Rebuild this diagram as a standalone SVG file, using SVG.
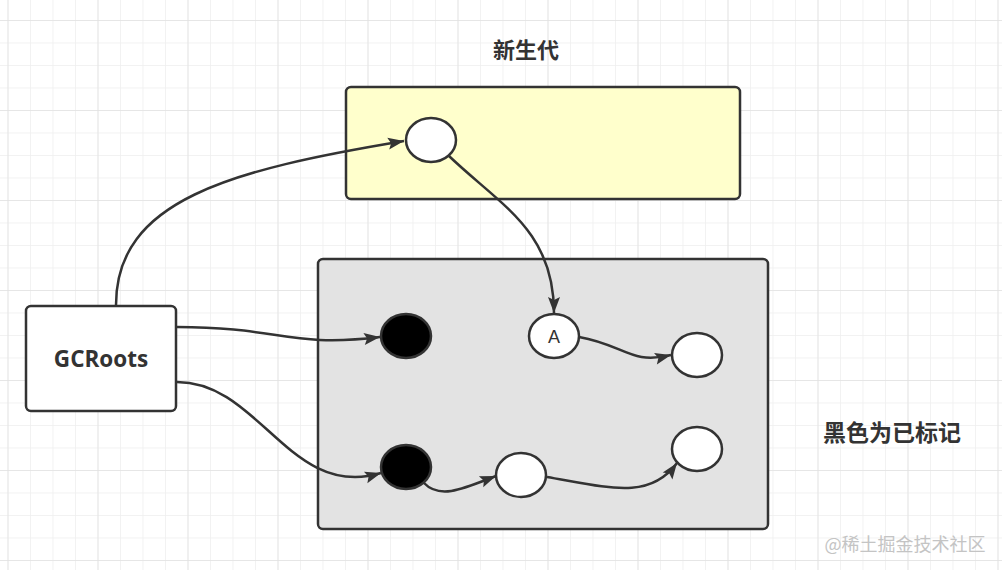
<svg xmlns="http://www.w3.org/2000/svg" width="1002" height="570" viewBox="0 0 1002 570">
<style>
.box{stroke:#333;stroke-width:2.5}
.node{stroke:#333;stroke-width:2.5}
.edge{fill:none;stroke:#333;stroke-width:2.5}
.zh{font-family:"Noto Sans CJK SC","Noto Sans",sans-serif;font-weight:bold;fill:#333}
</style>
<defs>
<pattern id="minor" x="7.5" y="20" width="22.5" height="22.5" patternUnits="userSpaceOnUse">
<path d="M0,0 H22.5 M0,0 V22.5" fill="none" stroke="#eeeeee" stroke-width="1.5"/>
</pattern>
<pattern id="major" x="7.5" y="20" width="90" height="90" patternUnits="userSpaceOnUse">
<path d="M0,0 H90 M0,0 V90" fill="none" stroke="#e2e2e2" stroke-width="1.5"/>
</pattern>
<marker id="arr" markerWidth="18" markerHeight="14" viewBox="-17 -7 18 14" refX="0" refY="0" orient="auto" markerUnits="userSpaceOnUse">
<path d="M0,0 L-16,-6 L-13,0 L-16,6 Z" fill="#333"/>
</marker>
</defs>
<rect width="1002" height="570" fill="#fff"/>
<rect width="1002" height="570" fill="url(#minor)"/>
<rect width="1002" height="570" fill="url(#major)"/>

<text class="zh" x="526" y="58" font-size="22" text-anchor="middle">新生代</text>
<text class="zh" x="892" y="441" font-size="23" text-anchor="middle">黑色为已标记</text>
<text x="905" y="551" font-size="18" text-anchor="middle" fill="#c4c4c4" font-family="Noto Sans CJK SC,sans-serif">@稀土掘金技术社区</text>

<g id="young-gen"><rect class="box" x="346" y="87" width="394" height="112" rx="5" fill="#ffffcc"/></g>
<g id="old-gen"><rect class="box" x="318" y="259" width="450" height="270" rx="5" fill="#e3e3e3"/></g>
<g id="gcroots">
<rect class="box" x="26" y="306" width="150" height="105" rx="5" fill="#fff"/>
<text x="101" y="367" font-size="22.5" font-weight="bold" text-anchor="middle" fill="#333" font-family="Open Sans,Noto Sans,sans-serif">GCRoots</text>
</g>
<g id="young-obj"><ellipse class="node" cx="431" cy="140" rx="25" ry="22" fill="#fff"/></g>
<g id="black1"><ellipse class="node" cx="406" cy="336" rx="25" ry="22" fill="#000"/></g>
<g id="objA"><ellipse class="node" cx="554" cy="336" rx="25" ry="22" fill="#fff"/>
<text x="554" y="343" font-size="18" text-anchor="middle" fill="#333" font-family="Liberation Sans,Arial,sans-serif">A</text></g>
<g id="objA2"><ellipse class="node" cx="697" cy="355" rx="25" ry="22" fill="#fff"/></g>
<g id="black2"><ellipse class="node" cx="406" cy="467" rx="25" ry="22" fill="#000"/></g>
<g id="obj-b1"><ellipse class="node" cx="521" cy="475" rx="25" ry="22" fill="#fff"/></g>
<g id="obj-b2"><ellipse class="node" cx="697" cy="449" rx="25" ry="22" fill="#fff"/></g>

<g id="connectors">
<path class="edge" marker-end="url(#arr)" d="M116,305 C116,200 230,170 404,141"/>
<path class="edge" marker-end="url(#arr)" d="M449,156 C500,205 554,230 554,313"/>
<path class="edge" marker-end="url(#arr)" d="M177,327 C280,327 290,348 380,337"/>
<path class="edge" marker-end="url(#arr)" d="M177,382 C260,382 290,500 381,473"/>
<path class="edge" marker-end="url(#arr)" d="M579,337 C625,345 630,365 671,355"/>
<path class="edge" marker-end="url(#arr)" d="M424,483 C440,500 465,488 496,476"/>
<path class="edge" marker-end="url(#arr)" d="M547,477 C610,488 650,500 677,463"/>
</g>
</svg>
